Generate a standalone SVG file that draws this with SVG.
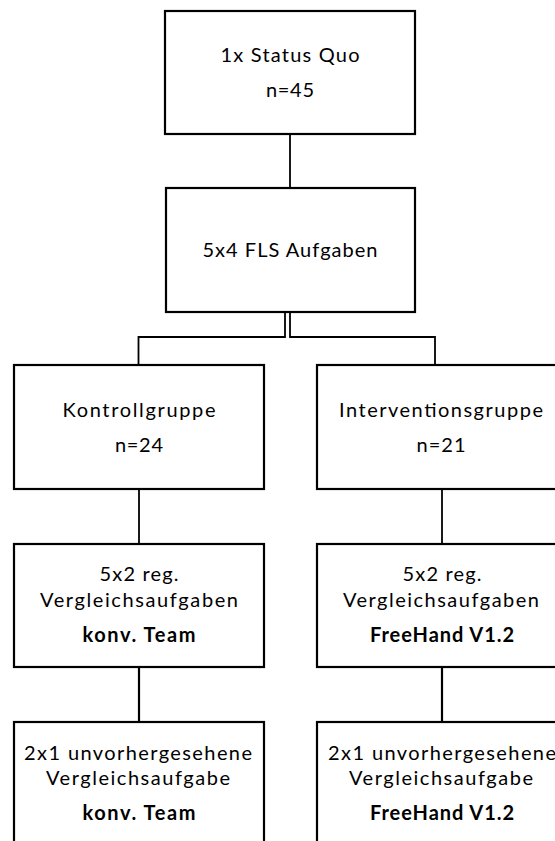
<svg xmlns="http://www.w3.org/2000/svg" width="555" height="841" viewBox="0 0 555 841">
<style>
.box{fill:#fff;stroke:#000;stroke-width:2.2}
.t{font-family:Lato,"Liberation Sans",sans-serif;font-size:20px;fill:#000;text-anchor:middle}
.b{font-weight:bold}
.c{fill:none;stroke:#000;stroke-width:1.8}
</style>
<rect width="555" height="841" fill="#fff"/>
<g id="connectors">
<line class="c" x1="290" y1="134" x2="290" y2="188"/>
<path class="c" d="M285 312 V337 H138.5 V365"/>
<path class="c" d="M290 312 V337 H435 V365"/>
<line class="c" x1="139" y1="489" x2="139" y2="544"/>
<line class="c" x1="442" y1="489" x2="442" y2="544"/>
<line class="c" x1="139" y1="667" x2="139" y2="722" style="stroke-width:2.2"/>
<line class="c" x1="442" y1="667" x2="442" y2="722" style="stroke-width:2.2"/>
</g>
<g id="statusquo">
<rect class="box" x="165" y="11" width="250" height="123"/>
<text class="t" x="290" y="62" textLength="139" lengthAdjust="spacing">1x Status Quo</text>
<text class="t" x="290" y="97" textLength="48" lengthAdjust="spacing">n=45</text>
</g>
<g id="fls">
<rect class="box" x="166" y="188" width="249" height="124"/>
<text class="t" x="290" y="257" textLength="175" lengthAdjust="spacing">5x4 FLS Aufgaben</text>
</g>
<g id="kontrollgruppe">
<rect class="box" x="14" y="365" width="250" height="124"/>
<text class="t" x="139" y="417" textLength="153" lengthAdjust="spacing">Kontrollgruppe</text>
<text class="t" x="139" y="452" textLength="48" lengthAdjust="spacing">n=24</text>
</g>
<g id="interventionsgruppe">
<rect class="box" x="317" y="365" width="252" height="124"/>
<text class="t" x="441" y="417" textLength="204" lengthAdjust="spacing">Interventionsgruppe</text>
<text class="t" x="441" y="452" textLength="49" lengthAdjust="spacing">n=21</text>
</g>
<g id="reg-kontroll">
<rect class="box" x="14" y="544" width="250" height="123"/>
<text class="t" x="139" y="581" textLength="79" lengthAdjust="spacing">5x2 reg.</text>
<text class="t" x="139" y="607" textLength="198" lengthAdjust="spacing">Vergleichsaufgaben</text>
<text class="t b" x="139" y="642" textLength="113" lengthAdjust="spacing">konv. Team</text>
</g>
<g id="reg-intervention">
<rect class="box" x="317" y="544" width="252" height="123"/>
<text class="t" x="442" y="581" textLength="79" lengthAdjust="spacing">5x2 reg.</text>
<text class="t" x="441" y="607" textLength="196" lengthAdjust="spacing">Vergleichsaufgaben</text>
<text class="t b" x="442" y="642" textLength="144" lengthAdjust="spacing">FreeHand V1.2</text>
</g>
<g id="unvorhergesehen-kontroll">
<rect class="box" x="14" y="722" width="250" height="140"/>
<text class="t" x="138" y="760" textLength="228" lengthAdjust="spacing">2x1 unvorhergesehene</text>
<text class="t" x="138" y="785" textLength="184" lengthAdjust="spacing">Vergleichsaufgabe</text>
<text class="t b" x="139" y="820" textLength="113" lengthAdjust="spacing">konv. Team</text>
</g>
<g id="unvorhergesehen-intervention">
<rect class="box" x="317" y="722" width="252" height="140"/>
<text class="t" x="442" y="760" textLength="228" lengthAdjust="spacing">2x1 unvorhergesehene</text>
<text class="t" x="441" y="785" textLength="184" lengthAdjust="spacing">Vergleichsaufgabe</text>
<text class="t b" x="442" y="820" textLength="144" lengthAdjust="spacing">FreeHand V1.2</text>
</g>
</svg>
